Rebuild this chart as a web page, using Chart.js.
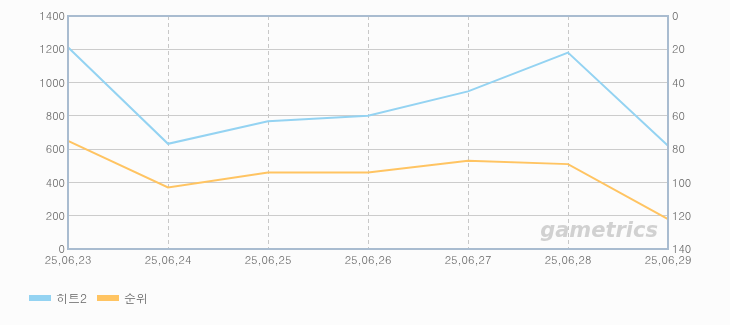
<!DOCTYPE html>
<html>
<head>
<meta charset="utf-8">
<script src="https://cdn.jsdelivr.net/npm/chart.js@4"></script>
<style>
  html, body { margin: 0; padding: 0; background: #fcfcfc; }
  #wrap { width: 730px; height: 325px; }
</style>
</head>
<body>
<div id="wrap"><canvas id="chartDiv"></canvas></div>
<script>
// data
var dateLabels = ["25,06,23", "25,06,24", "25,06,25", "25,06,26", "25,06,27", "25,06,28", "25,06,29"];
var hitValues = [1212, 632, 768, 801, 947, 1180, 620];
var rankValues = [75, 103, 94, 94, 87, 89, 122];
var seriesNames = ["히트2", "순위"];

var fontFamily = 'Dotum, "Noto Sans CJK KR", "DejaVu Sans", sans-serif';

// frame round the plot + watermark
var framePlugin = {
	id: "frame",
	beforeDatasetsDraw: function(chart) {
		var a = chart.chartArea;
		var ctx = chart.ctx;
		ctx.save();
		ctx.font = "italic bold 21px Verdana, 'DejaVu Sans', sans-serif";
		ctx.fillStyle = "rgba(195,195,195,0.75)";
		ctx.textAlign = "right";
		ctx.textBaseline = "alphabetic";
		ctx.fillText("gametrics", a.right - 10, a.bottom - 12);
		ctx.restore();
	},
	afterDraw: function(chart) {
		var a = chart.chartArea;
		var ctx = chart.ctx;
		ctx.save();
		ctx.strokeStyle = "#a9bcd0";
		ctx.lineWidth = 2;
		ctx.strokeRect(a.left, a.top, a.right - a.left, a.bottom - a.top);
		ctx.restore();
	}
};

var ctx = document.getElementById("chartDiv");

var myLineChart = new Chart(ctx, {
	type: "line",
	data: {
		labels: dateLabels,
		datasets: [{
			label: seriesNames[0],
			data: hitValues,
			yAxisID: "y",
			borderColor: "#94d3f2",
			backgroundColor: "#94d3f2",
			borderWidth: 2,
			pointRadius: 0,
			tension: 0
		}, {
			label: seriesNames[1],
			data: rankValues,
			yAxisID: "y1",
			borderColor: "#ffc462",
			backgroundColor: "#ffc462",
			borderWidth: 2,
			pointRadius: 0,
			tension: 0
		}]
	},
	options: {
		responsive: true,
		maintainAspectRatio: false,
		animation: false,
		layout: { padding: { left: 19, right: 0, top: 16, bottom: 11 } },
		plugins: {
			tooltip: { enabled: false },
			legend: {
				position: "bottom",
				align: "start",
				labels: {
					boxWidth: 20,
					boxHeight: 4,
					padding: 11,
					color: "#666",
					font: { family: fontFamily, size: 12 }
				}
			}
		},
		scales: {
			x: {
				offset: false,
				afterFit: function(scale) { scale.height = 32; },
				grid: {
					color: "#c8c8c8",
					drawTicks: false
				},
				border: { display: false, dash: [4, 3] },
				ticks: {
					color: "#666",
					font: { family: fontFamily, size: 11 },
					maxRotation: 0,
					autoSkip: false,
					padding: 4
				}
			},
			y: {
				position: "left",
				min: 0,
				max: 1400,
				afterFit: function(scale) { scale.width = 49; },
				grid: { color: "#cccccc", drawTicks: false },
				border: { display: false },
				ticks: {
					stepSize: 200,
					color: "#666",
					padding: 3,
					font: { family: fontFamily, size: 11 },
					callback: function(v) { return String(v); }
				}
			},
			y1: {
				position: "right",
				reverse: true,
				min: 0,
				max: 140,
				afterFit: function(scale) { scale.width = 62; },
				grid: { drawOnChartArea: false, drawTicks: false },
				border: { display: false },
				ticks: {
					stepSize: 20,
					color: "#666",
					padding: 4,
					font: { family: fontFamily, size: 11 },
					callback: function(v) { return String(v); }
				}
			}
		}
	},
	plugins: [framePlugin]
});
</script>
</body>
</html>
